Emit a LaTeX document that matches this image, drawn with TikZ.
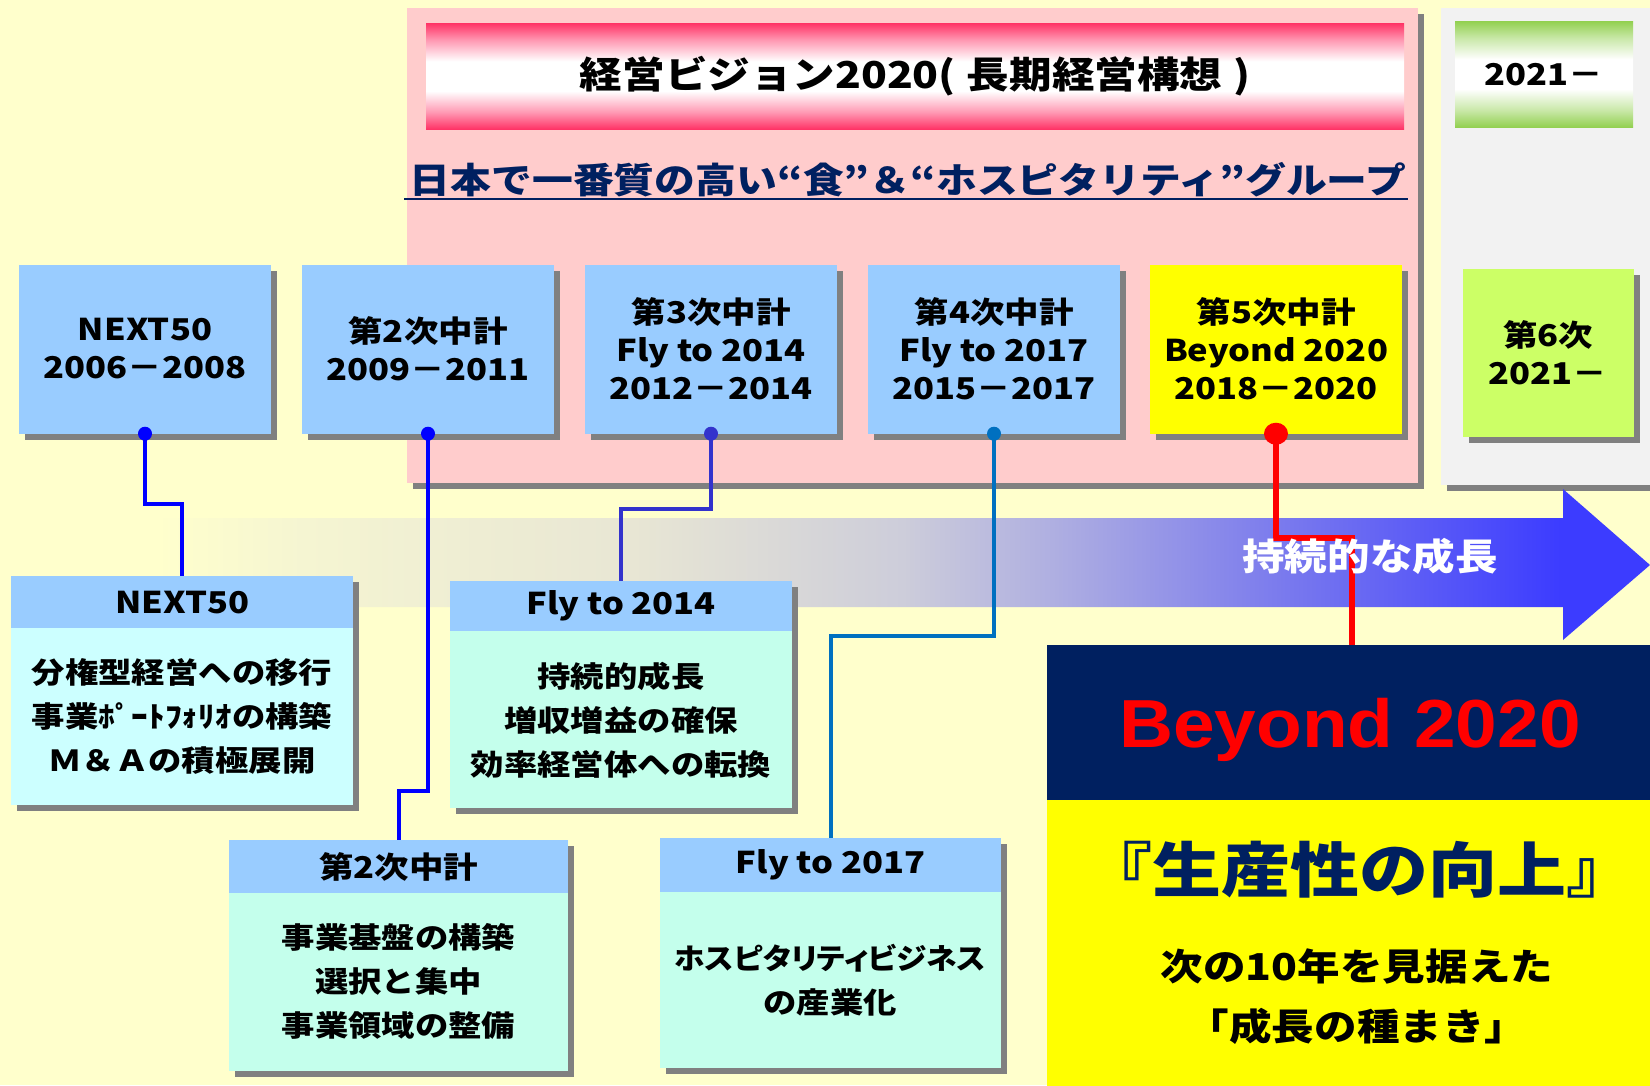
\documentclass[tikz,border=0pt]{standalone}
\usepackage{fontspec}
\usepackage{graphicx}
\setmainfont{Noto Sans CJK JP}[FakeStretch=1.15]
\newfontfamily\latf{Liberation Sans}[FakeStretch=1.1]
\usetikzlibrary{shadows}
\definecolor{bgY}{HTML}{FFFFCC}
\definecolor{pinkP}{HTML}{FFCCCC}
\definecolor{greyP}{HTML}{F2F2F2}
\definecolor{boxB}{HTML}{99CCFF}
\definecolor{boxY}{HTML}{FFFF00}
\definecolor{boxG}{HTML}{CCFF66}
\definecolor{bodyC}{HTML}{CCFFFF}
\definecolor{bodyM}{HTML}{C4FFEC}
\definecolor{navy}{HTML}{002060}
\definecolor{titleR}{HTML}{FF3366}
\definecolor{titleM}{HTML}{FF99B3}
\definecolor{greenG}{HTML}{92D050}
\definecolor{greenM}{HTML}{C9E8A8}
\definecolor{lnA}{HTML}{0000FF}
\definecolor{lnB}{HTML}{3333CC}
\definecolor{lnC}{HTML}{0070C0}
\definecolor{shad}{HTML}{808080}
\definecolor{arA}{HTML}{F5F5D2}
\definecolor{arB}{HTML}{E8E6D4}
\definecolor{arC}{HTML}{CDCDDA}
\definecolor{arD}{HTML}{AFAFE1}
\definecolor{arE}{HTML}{7878EE}
\definecolor{arF}{HTML}{3C3CFF}
\pgfdeclareverticalshading{titlesh}{100bp}{color(0bp)=(titleR); color(25bp)=(titleR); color(33bp)=(titleM); color(43bp)=(white); color(57bp)=(white); color(67bp)=(titleM); color(75bp)=(titleR); color(100bp)=(titleR)}
\pgfdeclareverticalshading{greensh}{100bp}{color(0bp)=(greenG); color(25bp)=(greenG); color(33bp)=(greenM); color(43bp)=(white); color(57bp)=(white); color(67bp)=(greenM); color(75bp)=(greenG); color(100bp)=(greenG)}
\pgfdeclarehorizontalshading{arrowsh}{100bp}{color(0bp)=(bgY); color(25bp)=(bgY); color(30bp)=(arA); color(41bp)=(arB); color(50bp)=(arC); color(55bp)=(arD); color(63bp)=(arE); color(72bp)=(arF); color(100bp)=(arF)}
\tikzset{
  shd/.style={drop shadow={shadow xshift=6pt,shadow yshift=-6pt,opacity=1,fill=shad}},
  topbox/.style={shd, minimum width=252pt, minimum height=169pt, inner sep=0pt, align=center,
    font=\bfseries\fontsize{30}{38}\selectfont},
  bbody/.style={shd, anchor=north west, inner sep=0pt},
  bhead/.style={fill=boxB, anchor=north west, inner sep=0pt, font=\bfseries\fontsize{30}{38}\selectfont},
  btext/.style={align=center, inner sep=0pt, font=\bfseries\fontsize{29}{44}\selectfont},
  conn/.style={line width=4pt},
}
\begin{document}
\begin{tikzpicture}[x=1pt,y=-1pt]
\useasboundingbox (0,0) rectangle (1650,1085);
\fill[bgY] (0,0) rectangle (1650,1085);
% panels
\fill[shad] (413,14) rectangle (1424,489);
\fill[pinkP] (407,8) rectangle (1418,483);
\fill[shad] (1447,14) rectangle (1660,491);
\fill[greyP] (1441,8) rectangle (1660,485);
% title
\node[shading=titlesh, minimum width=978pt, minimum height=106pt, anchor=north west, inner sep=0pt,
  font=\bfseries\fontsize{37}{40}\selectfont] (title) at (426,23) {経営ビジョン2020(\hspace{.3em}長期経営構想\hspace{.3em})};
\node[shading=greensh, minimum width=178pt, minimum height=106pt, anchor=north west, inner sep=0pt,
  font=\bfseries\fontsize{30}{38}\selectfont] (g0) at (1455,21) {2021－};
\node[text=navy, inner sep=0pt, font=\bfseries\fontsize{35.5}{40}\selectfont] (sub) at (908,180) {日本で一番質の高い“食”＆“ホスピタリティ”グループ};
\draw[navy, line width=2pt] (404,199) -- (1408,199);
% arrow
\path[shading=arrowsh] (155,518) -- (1563,518) -- (1563,489) -- (1650,565) -- (1563,640) -- (1563,607) -- (155,607) -- cycle;
% top boxes
\node[topbox, fill=boxB] (t1) at (145,349) {NEXT50\\2006－2008};
\node[topbox, fill=boxB] (t2) at (428,349) {第2次中計\\2009－2011};
\node[topbox, fill=boxB] (t3) at (711,349) {第3次中計\\Fly to 2014\\2012－2014};
\node[topbox, fill=boxB] (t4) at (994,349) {第4次中計\\Fly to 2017\\2015－2017};
\node[topbox, fill=boxY] (t5) at (1276,349) {第5次中計\\Beyond 2020\\2018－2020};
\node[topbox, fill=boxG, minimum width=171pt, minimum height=168pt] (t6) at (1548,353) {第6次\\2021－};
% bottom boxes
\node[bbody, fill=bodyC, minimum width=342pt, minimum height=229pt] (b1) at (11,576) {};
\node[bhead, minimum width=342pt, minimum height=52pt] (b1h) at (11,576) {NEXT50};
\node[btext] (b1t) at (182,716) {分権型経営への移行\\事業ﾎﾟｰﾄﾌｫﾘｵの構築\\Ｍ＆Ａの積極展開};
\node[bbody, fill=bodyM, minimum width=339pt, minimum height=231pt] (b2) at (229,840) {};
\node[bhead, minimum width=339pt, minimum height=53pt] (b2h) at (229,840) {第2次中計};
\node[btext] (b2t) at (398.5,981) {事業基盤の構築\\選択と集中\\事業領域の整備};
\node[bbody, fill=bodyM, minimum width=342pt, minimum height=227pt] (b3) at (450,581) {};
\node[bhead, minimum width=342pt, minimum height=50pt] (b3h) at (450,581) {Fly to 2014};
\node[btext] (b3t) at (621,720) {持続的成長\\増収増益の確保\\効率経営体への転換};
\node[bbody, fill=bodyM, minimum width=341pt, minimum height=230pt] (b4) at (660,838) {};
\node[bhead, minimum width=341pt, minimum height=54pt] (b4h) at (660,838) {Fly to 2017};
\node[btext] (b4t) at (830,980) {\scalebox{0.92}[1]{\addfontfeature{RawFeature=+palt}ホスピタリティビジネス}\\の産業化};
% beyond box
\node[fill=navy, minimum width=610pt, minimum height=155pt, anchor=north west, inner sep=0pt] (beyond) at (1047,645) {};
\node[text=red, inner sep=0pt, font=\latf\bfseries\fontsize{68}{80}\selectfont] (btitle) at (1350,730) {Beyond 2020};
\node[fill=boxY, minimum width=610pt, minimum height=290pt, anchor=north west, inner sep=0pt] (yb) at (1047,800) {};
\node[text=navy, inner sep=0pt, font=\bfseries\fontsize{60}{66}\selectfont] (prod) at (1359,870) {『生産性の向上』};
\node[inner sep=0pt, font=\bfseries\fontsize{37}{44}\selectfont] (next10) at (1357,966) {次の10年を見据えた};
\node[inner sep=0pt, font=\bfseries\fontsize{37}{44}\selectfont] (seed) at (1357,1026) {「成長の種まき」};
% connectors
\draw[conn, lnA] (t1.south) -- ++(0,70) -| (b1.north);
\draw[conn, lnA] (t2.south) -- ++(0,357.5) -| (b2.north);
\draw[conn, lnB] (t3.south) -- ++(0,75) -| (b3.north);
\draw[conn, lnC] (t4.south) -- ++(0,202) -| (b4.north);
\draw[red, line width=6pt] (t5.south) -- ++(0,104) -| (beyond.north);
\fill[lnA] (t1.south) circle[radius=7pt];
\fill[lnA] (t2.south) circle[radius=7pt];
\fill[lnB] (t3.south) circle[radius=7pt];
\fill[lnC] (t4.south) circle[radius=7pt];
\fill[red] (t5.south) ellipse[x radius=12pt, y radius=11pt];
% arrow text
\node[text=white, inner sep=0pt, font=\bfseries\fontsize{37}{40}\selectfont] (grow) at (1370,556) {持続的な成長};
\end{tikzpicture}
\end{document}
